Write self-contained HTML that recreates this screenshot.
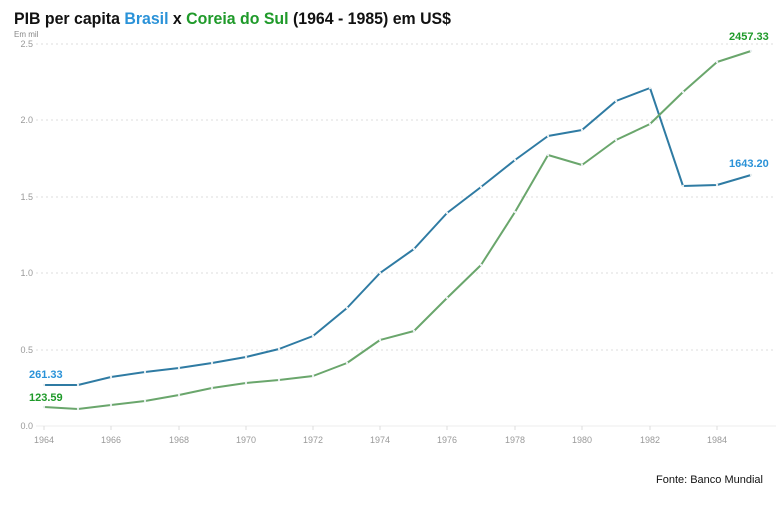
<!DOCTYPE html>
<html><head><meta charset="utf-8"><style>
body{margin:0;background:#fff;width:781px;height:502px;overflow:hidden;font-family:"Liberation Sans",sans-serif}
</style></head><body>
<svg width="781" height="502" xmlns="http://www.w3.org/2000/svg" font-family="Liberation Sans, sans-serif">
<text x="14" y="24" font-size="17" font-weight="bold" fill="#111" textLength="437" lengthAdjust="spacingAndGlyphs">PIB per capita <tspan fill="#2a92d8">Brasil</tspan> x <tspan fill="#1f9a2a">Coreia do Sul</tspan> (1964 - 1985) em US$</text>
<text x="14" y="37" font-size="8" fill="#888">Em mil</text>
<g stroke="#ddd" stroke-dasharray="2,3" stroke-width="1">
<line x1="36" y1="44" x2="776" y2="44"/><line x1="36" y1="120" x2="776" y2="120"/>
<line x1="36" y1="197" x2="776" y2="197"/><line x1="36" y1="273" x2="776" y2="273"/>
<line x1="36" y1="350" x2="776" y2="350"/></g>
<line x1="36" y1="426" x2="776" y2="426" stroke="#ececec" stroke-width="1"/>
<g stroke="#ddd" stroke-width="1">
<line x1="44" y1="426" x2="44" y2="430"/><line x1="111" y1="426" x2="111" y2="430"/><line x1="179" y1="426" x2="179" y2="430"/>
<line x1="246" y1="426" x2="246" y2="430"/><line x1="313" y1="426" x2="313" y2="430"/><line x1="380" y1="426" x2="380" y2="430"/>
<line x1="447" y1="426" x2="447" y2="430"/><line x1="515" y1="426" x2="515" y2="430"/><line x1="582" y1="426" x2="582" y2="430"/>
<line x1="650" y1="426" x2="650" y2="430"/><line x1="717" y1="426" x2="717" y2="430"/></g>
<g font-size="9" fill="#999" text-anchor="end">
<text x="33" y="47">2.5</text><text x="33" y="123">2.0</text><text x="33" y="200">1.5</text>
<text x="33" y="276">1.0</text><text x="33" y="353">0.5</text><text x="33" y="429">0.0</text></g>
<g font-size="9" fill="#999" text-anchor="middle">
<text x="44" y="443">1964</text><text x="111" y="443">1966</text><text x="179" y="443">1968</text>
<text x="246" y="443">1970</text><text x="313" y="443">1972</text><text x="380" y="443">1974</text>
<text x="447" y="443">1976</text><text x="515" y="443">1978</text><text x="582" y="443">1980</text>
<text x="650" y="443">1982</text><text x="717" y="443">1984</text></g>
<polyline fill="none" stroke="#2f7ba3" stroke-width="2" stroke-linejoin="round" points="44,385 78,385 111,377 145,372 179,368 212,363 246,357 279,349 313,336 347,308 380,273 414,249 447,213 481,187 515,160 548,136 582,130 616,101 650,88 683,186 717,185 751,175"/>
<polyline fill="none" stroke="#6aa66c" stroke-width="2" stroke-linejoin="round" points="44,407 78,409 111,405 145,401 179,395 212,388 246,383 279,380 313,376 347,363 380,340 414,331 447,298 481,265 515,212 548,155 582,165 616,140 650,124 683,92 717,62 751,51"/>
<g fill="#e8eef0">
<circle cx="44" cy="385" r="1.2"/><circle cx="78" cy="385" r="1.2"/><circle cx="111" cy="377" r="1.2"/><circle cx="145" cy="372" r="1.2"/><circle cx="179" cy="368" r="1.2"/><circle cx="212" cy="363" r="1.2"/><circle cx="246" cy="357" r="1.2"/><circle cx="279" cy="349" r="1.2"/><circle cx="313" cy="336" r="1.2"/><circle cx="347" cy="308" r="1.2"/><circle cx="380" cy="273" r="1.2"/><circle cx="414" cy="249" r="1.2"/><circle cx="447" cy="213" r="1.2"/><circle cx="481" cy="187" r="1.2"/><circle cx="515" cy="160" r="1.2"/><circle cx="548" cy="136" r="1.2"/><circle cx="582" cy="130" r="1.2"/><circle cx="616" cy="101" r="1.2"/><circle cx="650" cy="88" r="1.2"/><circle cx="683" cy="186" r="1.2"/><circle cx="717" cy="185" r="1.2"/><circle cx="751" cy="175" r="1.2"/>
<circle cx="44" cy="407" r="1.2"/><circle cx="78" cy="409" r="1.2"/><circle cx="111" cy="405" r="1.2"/><circle cx="145" cy="401" r="1.2"/><circle cx="179" cy="395" r="1.2"/><circle cx="212" cy="388" r="1.2"/><circle cx="246" cy="383" r="1.2"/><circle cx="279" cy="380" r="1.2"/><circle cx="313" cy="376" r="1.2"/><circle cx="347" cy="363" r="1.2"/><circle cx="380" cy="340" r="1.2"/><circle cx="414" cy="331" r="1.2"/><circle cx="447" cy="298" r="1.2"/><circle cx="481" cy="265" r="1.2"/><circle cx="515" cy="212" r="1.2"/><circle cx="548" cy="155" r="1.2"/><circle cx="582" cy="165" r="1.2"/><circle cx="616" cy="140" r="1.2"/><circle cx="650" cy="124" r="1.2"/><circle cx="683" cy="92" r="1.2"/><circle cx="717" cy="62" r="1.2"/><circle cx="751" cy="51" r="1.2"/>
</g>
<text x="29" y="378" font-size="11" font-weight="bold" fill="#2a92d8">261.33</text>
<text x="29" y="401" font-size="11" font-weight="bold" fill="#1f9a2a">123.59</text>
<text x="729" y="40" font-size="11" font-weight="bold" fill="#1f9a2a">2457.33</text>
<text x="729" y="167" font-size="11" font-weight="bold" fill="#2a92d8">1643.20</text>
<text x="763" y="483" font-size="11" fill="#111" text-anchor="end">Fonte: Banco Mundial</text>
</svg>
</body></html>
